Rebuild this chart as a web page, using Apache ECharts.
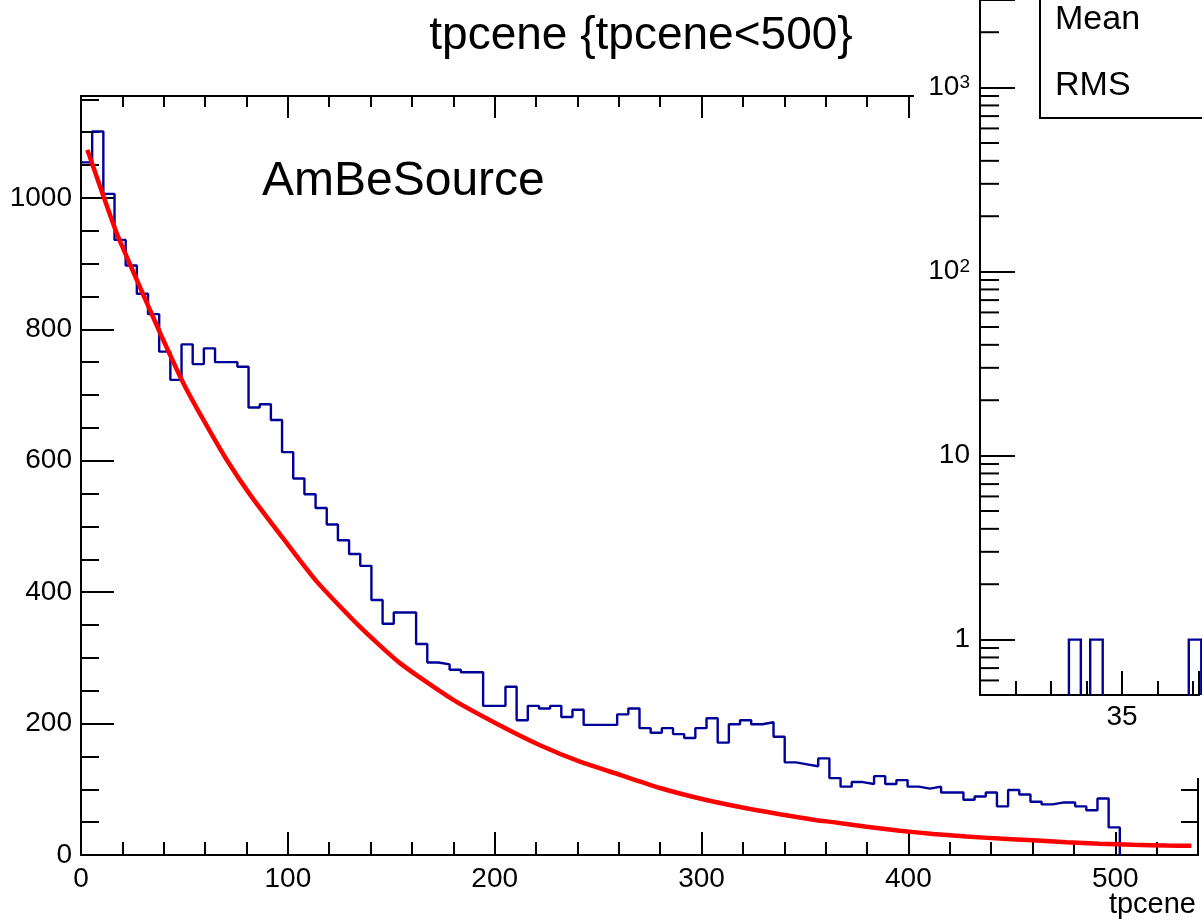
<!DOCTYPE html>
<html>
<head>
<meta charset="utf-8">
<title>tpcene {tpcene<500}</title>
<script src="https://cdn.jsdelivr.net/npm/echarts@6/dist/echarts.min.js"></script>
<style>
  html, body { margin: 0; padding: 0; background: #fff; }
  #chart { width: 1202px; height: 922px; }
</style>
</head>
<body>
<div id="chart"></div>
<script>
// main histogram, 100 bins over [histMin, histMax]
const histMin = 0
const histMax = 540
const histCounts = [
  1054, 1101, 1006, 936, 897, 854, 823, 766, 723, 777,
  747, 771, 750, 750, 743, 681, 686, 662, 613, 573,
  549, 528, 503, 479, 458, 440, 388, 352, 369, 369,
  321, 293, 290, 282, 278, 278, 227, 227, 256, 205,
  227, 223, 227, 210, 221, 198, 198, 198, 214, 223,
  193, 186, 193, 184, 178, 193, 208, 171, 199, 205,
  199, 202, 180, 141, 138, 135, 147, 117, 104, 111,
  108, 120, 108, 114, 104, 101, 104, 95, 95, 84,
  89, 95, 74, 99, 92, 81, 77, 80, 80, 74,
  68, 86, 42, 0, 0, 0, 0, 0, 0, 0
]
// fitted curve, points
const fitX = [3.1, 10.9, 17.3, 27, 38.3, 49.5, 59.2, 70.5, 81.8, 97.9, 114, 134.9, 154.2, 180, 202.6, 221.9,
  241.2, 260.6, 279.9, 299.2, 318.5, 337.9, 355.6, 363.6, 379.8, 395.9, 412, 428, 444.2, 460.3, 476.4, 492.5,
  508.6, 524.7, 536.8]
const fitY = [1073, 1002, 946, 875, 794, 718, 662, 601, 548, 481, 416, 347, 292, 236, 197, 167,
  142, 122, 102, 86, 73, 62, 53, 50, 43, 37, 32, 28, 25, 22.5, 19.5, 17,
  15.5, 14.5, 14]
const yMax = 1155
// inset pad (log y), cut by the picture edge
const insetXMin = 30
const insetXMax = 37.71
const insetYMin = 0.5
const insetYMax = 2993
const insetBins = [[33.13, 33.55, 1], [33.88, 34.32, 1], [37.35, 37.79, 1]]
const insetMinorTicks = [0.6, 0.7, 0.8, 0.9, 2, 3, 4, 5, 6, 7, 8, 9, 20, 30, 40, 50, 60, 70, 80, 90,
  200, 300, 400, 500, 600, 700, 800, 900, 2000]
const statLabels = ['Mean', 'RMS']

const font = 'Liberation Sans, Arial, Helvetica, sans-serif'
const black = '#000'

let chart = echarts.init(document.getElementById('chart'))

// histogram outline (trailing empty bins lie on the frame)
let binW = (histMax - histMin) / histCounts.length
let lastBin = histCounts.length - 1
while (lastBin > 0 && histCounts[lastBin] === 0) lastBin--
let outline = [[histMin, histCounts[0]]]
histCounts.forEach((c, i) => {
  if (i > lastBin) return
  outline.push([histMin + i * binW, c])
  outline.push([histMin + (i + 1) * binW, c])
})
outline.push([histMin + (lastBin + 1) * binW, 0])

function mainX(position, interval, len, showLine, showLabel) {
  return {
    type: 'value', gridIndex: 0, position: position, min: histMin, max: histMax, interval: interval,
    axisLine: { show: showLine, onZero: false, lineStyle: { color: black, width: 2 } },
    axisTick: { show: true, inside: true, length: len, lineStyle: { color: black, width: 2 } },
    axisLabel: {
      show: showLabel, margin: 10, fontSize: 28, color: black, fontFamily: font,
      formatter: (v) => (v % 100 === 0 ? String(v) : ''),
    },
    splitLine: { show: false },
  }
}
function mainY(position, interval, len, showLine, showLabel) {
  return {
    type: 'value', gridIndex: 0, position: position, min: 0, max: yMax, interval: interval,
    axisLine: { show: showLine, onZero: false, lineStyle: { color: black, width: 2 } },
    axisTick: { show: true, inside: true, length: len, lineStyle: { color: black, width: 2 } },
    axisLabel: {
      show: showLabel, margin: 9, fontSize: 28, color: black, fontFamily: font,
      formatter: (v) => (v % 200 === 0 ? String(v) : ''),
    },
    splitLine: { show: false },
  }
}
function insetX(interval, len, showLine, showLabel) {
  return {
    type: 'value', gridIndex: 1, position: 'bottom', min: insetXMin, max: insetXMax, interval: interval, z: 20,
    axisLine: { show: showLine, onZero: false, lineStyle: { color: black, width: 2 } },
    axisTick: { show: true, inside: true, length: len, lineStyle: { color: black, width: 2 } },
    axisLabel: {
      show: showLabel, margin: 8, fontSize: 28, color: black, fontFamily: font,
      formatter: (v) => (v % 5 === 0 && v !== insetXMin ? String(v) : ''),
    },
    splitLine: { show: false },
  }
}

let option = {
  animation: false,
  backgroundColor: '#fff',
  grid: [
    { left: 81, top: 96, width: 1117, height: 759 },
    { left: 980, top: 0, width: 222, height: 695 },
  ],
  xAxis: [
    mainX('bottom', 20, 13, true, false),
    mainX('bottom', 100, 23, false, true),
    mainX('top', 20, 11, true, false),
    mainX('top', 100, 22, false, false),
    insetX(1.25, 14, true, false),
    insetX(5, 24, false, true),
  ],
  yAxis: [
    mainY('left', 50, 18, true, false),
    mainY('left', 200, 33, false, true),
    mainY('right', 50, 17, true, false),
    mainY('right', 200, 33, false, false),
    {
      type: 'log', logBase: 10, gridIndex: 1, position: 'left', min: insetYMin, max: insetYMax, z: 20,
      axisLine: { show: true, onZero: false, lineStyle: { color: black, width: 2 } },
      axisTick: { show: true, inside: true, length: 35, lineStyle: { color: black, width: 2 } },
      axisLabel: {
        margin: 10, fontSize: 28, color: black, fontFamily: font,
        formatter: function (v) {
          let e = Math.round(Math.log10(v))
          if (Math.abs(v - Math.pow(10, e)) > 1e-6 * v) return ''
          if (e === 0) return '1'
          if (e === 1) return '10'
          return '10{sup|' + e + '}'
        },
        rich: {
          sup: { fontSize: 19, fontFamily: font, color: black, verticalAlign: 'top', lineHeight: 19 },
        },
      },
      splitLine: { show: false },
    },
  ],
  graphic: [
    // inset pad covering the main frame
    {
      type: 'rect', z: 10, silent: true,
      shape: { x: 914, y: -5, width: 300, height: 783 },
      style: { fill: '#fff' },
    },
    {
      type: 'text', z: 5,
      style: {
        x: 641, y: 36, text: 'tpcene {tpcene<500}', fill: black,
        font: '46px ' + font, textAlign: 'center', textVerticalAlign: 'middle',
      },
    },
    {
      type: 'text', z: 5,
      style: {
        x: 262, y: 182, text: 'AmBeSource', fill: black,
        font: '48px ' + font, textAlign: 'left', textVerticalAlign: 'middle',
      },
    },
    {
      type: 'text', z: 5,
      style: {
        x: 1196, y: 905, text: 'tpcene', fill: black,
        font: '29px ' + font, textAlign: 'right', textVerticalAlign: 'middle',
      },
    },
    // stats box
    {
      type: 'rect', z: 30,
      shape: { x: 1040, y: -10, width: 300, height: 128 },
      style: { fill: '#fff', stroke: black, lineWidth: 2 },
    },
    {
      type: 'text', z: 31,
      style: { x: 1055, y: 20, text: statLabels[0], fill: black, font: '34px ' + font, textVerticalAlign: 'middle' },
    },
    {
      type: 'text', z: 31,
      style: { x: 1055, y: 86, text: statLabels[1], fill: black, font: '34px ' + font, textVerticalAlign: 'middle' },
    },
  ],
  series: [
    {
      name: 'tpcene',
      type: 'line',
      xAxisIndex: 0,
      yAxisIndex: 0,
      data: outline,
      symbol: 'none',
      lineStyle: { color: '#000099', width: 2.4 },
      z: 3,
    },
    {
      name: 'fit',
      type: 'line',
      xAxisIndex: 0,
      yAxisIndex: 0,
      data: fitX.map((x, i) => [x, fitY[i]]),
      symbol: 'none',
      smooth: 0.2,
      lineStyle: { color: '#ff0000', width: 4.5 },
      z: 4,
    },
    {
      name: 'inset',
      type: 'custom',
      xAxisIndex: 4,
      yAxisIndex: 4,
      z: 21,
      data: insetBins,
      renderItem: function (params, api) {
        let lo = api.value(0)
        let hi = api.value(1)
        let c = api.value(2)
        return {
          type: 'polyline',
          shape: {
            points: [api.coord([lo, insetYMin]), api.coord([lo, c]), api.coord([hi, c]), api.coord([hi, insetYMin])],
          },
          style: { stroke: '#000099', lineWidth: 2.4, fill: null },
        }
      },
    },
    {
      name: 'logMinorTicks',
      type: 'custom',
      xAxisIndex: 4,
      yAxisIndex: 4,
      z: 21,
      data: insetMinorTicks.map((v) => [insetXMin, v]),
      renderItem: function (params, api) {
        let p = api.coord([api.value(0), api.value(1)])
        return {
          type: 'line',
          shape: { x1: p[0], y1: p[1], x2: p[0] + 19, y2: p[1] },
          style: { stroke: black, lineWidth: 2 },
        }
      },
    },
  ],
}

chart.setOption(option)
</script>
</body>
</html>
